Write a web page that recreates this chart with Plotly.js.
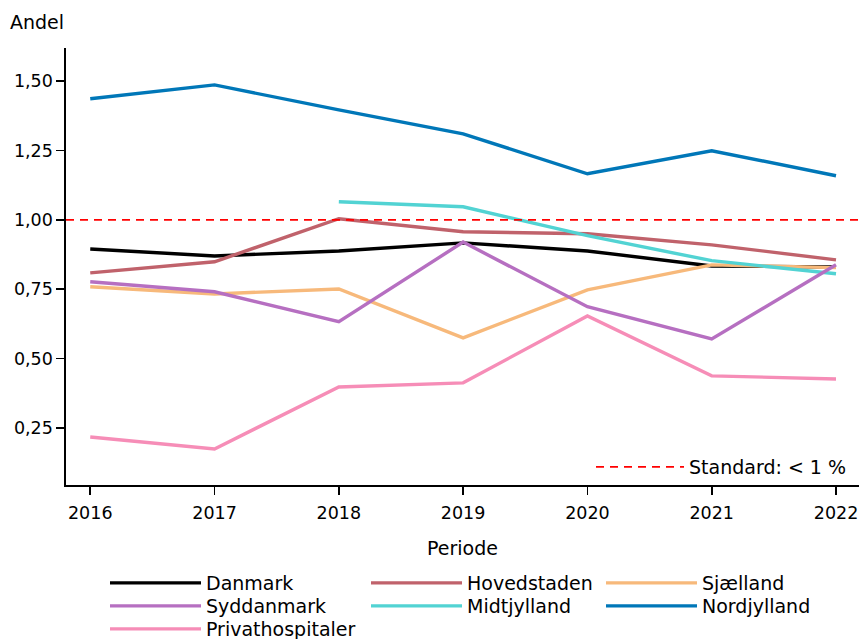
<!DOCTYPE html>
<html><head><meta charset="utf-8">
<script src="https://cdn.plot.ly/plotly-3.0.1.min.js"></script>
<style>html,body{margin:0;padding:0;background:#fff}#chart{width:859px;height:639px}</style>
</head><body><div id="chart"></div>
<script>
const years = [2016, 2017, 2018, 2019, 2020, 2021, 2022];
const danmark = [0.895, 0.870, 0.888, 0.917, 0.888, 0.834, 0.830];
const hovedstaden = [0.809, 0.849, 1.004, 0.957, 0.950, 0.910, 0.856];
const sjaelland = [0.759, 0.733, 0.751, 0.575, 0.748, 0.838, 0.828];
const midtjylland = [null, null, 1.065, 1.047, 0.943, 0.853, 0.806];
const nordjylland = [1.436, 1.486, 1.396, 1.310, 1.166, 1.249, 1.159];
const syddanmark = [0.777, 0.741, 0.633, 0.920, 0.687, 0.571, 0.838];
const privat = [0.218, 0.175, 0.398, 0.413, 0.654, 0.438, 0.427];
const standardValue = 1.0;
const xRange = [2015.805, 2022.185];
const yRange = [0.045, 1.619];
const yTicks = [0.25, 0.50, 0.75, 1.00, 1.25, 1.50];

const F = 'DejaVu Sans, sans-serif';
function tr(name, y, color, legend) {
  return {x: years, y: y, name: name, type: 'scatter', mode: 'lines',
    line: {color: color, width: 3.4}, legend: legend, connectgaps: false};
}
const data = [
  tr('Danmark', danmark, '#000000', 'legend'),
  tr('Hovedstaden', hovedstaden, '#c0626b', 'legend2'),
  tr('Sjælland', sjaelland, '#f7b97b', 'legend3'),
  tr('Midtjylland', midtjylland, '#52d3d3', 'legend5'),
  tr('Nordjylland', nordjylland, '#0077b8', 'legend6'),
  tr('Syddanmark', syddanmark, '#b66fc1', 'legend4'),
  tr('Privathospitaler', privat, '#f68db7', 'legend7'),
  {x: xRange, y: [standardValue, standardValue], name: 'Standard: < 1 %', type: 'scatter', mode: 'lines',
   line: {color: '#ff0000', width: 1.6, dash: '8px,6px'}, legend: 'legend8'}
];
const legBase = {font: {family: F, size: 19, color: '#000'}, bgcolor: 'rgba(0,0,0,0)', borderwidth: 0,
  orientation: 'v', xanchor: 'left', yanchor: 'middle', xref: 'container', yref: 'container',
  tracegroupgap: 0, itemwidth: 91};
function leg(px, py, extra) {
  return Object.assign({}, legBase, {x: px / 859, y: 1 - py / 639}, extra || {});
}
const colX = [105, 366, 601];
const rowY = [583, 606, 629];
const layout = {
  width: 859, height: 639,
  margin: {l: 66, r: 0, t: 48, b: 154, autoexpand: false},
  paper_bgcolor: '#fff', plot_bgcolor: '#fff',
  separators: ',.',
  font: {family: F, size: 18, color: '#000'},
  showlegend: true,
  xaxis: {range: xRange, tickvals: years, ticktext: years.map(String), showgrid: false, zeroline: false,
    showline: true, linecolor: '#000', linewidth: 1.6, ticks: 'outside', ticklen: 8, tickwidth: 1.6, tickcolor: '#000',
    tickfont: {family: F, size: 17.5}, automargin: false, ticklabelstandoff: 3,
    title: {text: 'Periode', font: {family: F, size: 19}, standoff: 20}},
  yaxis: {range: yRange, tickvals: yTicks, tickformat: '.2f', showgrid: false, zeroline: false,
    showline: true, linecolor: '#000', linewidth: 1.6, ticks: 'outside', ticklen: 8, tickwidth: 1.6, tickcolor: '#000',
    tickfont: {family: F, size: 17.5}, automargin: false},
  legend: leg(colX[0], rowY[0]),
  legend2: leg(colX[1], rowY[0]),
  legend3: leg(colX[2], rowY[0]),
  legend4: leg(colX[0], rowY[1]),
  legend5: leg(colX[1], rowY[1]),
  legend6: leg(colX[2], rowY[1]),
  legend7: leg(colX[0], rowY[2]),
  legend8: leg(591, 467, {itemwidth: 88}),
  annotations: [{text: 'Andel', xref: 'paper', yref: 'paper', x: -0.073, y: (485 - 22) / 437, xanchor: 'left', yanchor: 'middle',
    showarrow: false, font: {family: F, size: 19}}]
};
Plotly.newPlot('chart', data, layout, {displayModeBar: false, staticPlot: true});
</script></body></html>
